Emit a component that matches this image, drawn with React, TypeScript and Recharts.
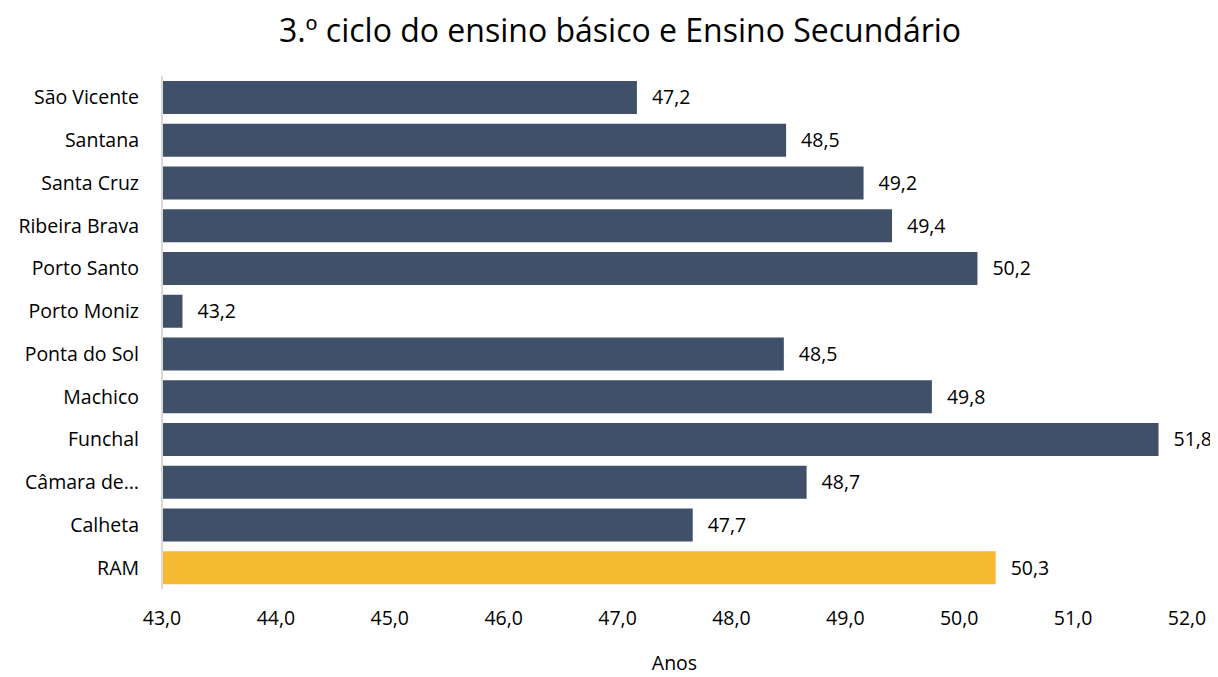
import React from "react";
import { BarChart, Bar, XAxis, YAxis, Cell, LabelList, Label } from "recharts";

const regions = [
  "São Vicente",
  "Santana",
  "Santa Cruz",
  "Ribeira Brava",
  "Porto Santo",
  "Porto Moniz",
  "Ponta do Sol",
  "Machico",
  "Funchal",
  "Câmara de Lobos",
  "Calheta",
  "RAM",
];
// average age (labels show one decimal)
const ages = [47.17, 48.48, 49.16, 49.41, 50.16, 43.18, 48.46, 49.76, 51.75, 48.66, 47.66, 50.32];
const xTicks = [43, 44, 45, 46, 47, 48, 49, 50, 51, 52];

const data = regions.map((name, i) => ({ name, value: ages[i] }));

const FONT = "'Open Sans', Lato, sans-serif";
const comma = (v: unknown) => (Math.round(Number(v) * 10) / 10).toFixed(1).replace(".", ",");
const shortName = (s: string) => (s.length > 13 ? s.slice(0, 9) + "…" : s);

export default function App() {
  return (
    <div style={{ position: "relative", width: 1210, height: 669, fontFamily: FONT }}>
      <div
        style={{
          position: "absolute",
          top: 0,
          left: 0,
          width: 1224,
          textAlign: "center",
          fontSize: 32,
          color: "#000",
        }}
      >
        3.º ciclo do ensino básico e Ensino Secundário
      </div>
      <BarChart
        width={1210}
        height={669}
        data={data}
        layout="vertical"
        margin={{ top: 68, right: 31, bottom: 0, left: 0 }}
      >
        <XAxis
          type="number"
          domain={[43, 52]}
          ticks={xTicks}
          tickFormatter={comma}
          axisLine={false}
          tickLine={false}
          tickSize={0}
          tickMargin={22}
          height={88}
          tick={{ fill: "#000", fontSize: 19.5, fontFamily: FONT }}
          allowDataOverflow
        >
          <Label value="Anos" position="insideBottom" offset={7} fill="#000" fontSize={19.5} fontFamily={FONT} />
        </XAxis>
        <YAxis
          type="category"
          dataKey="name"
          width={154}
          tickSize={0}
          tickMargin={23}
          tickLine={false}
          axisLine={{ stroke: "#d9d9d9", strokeWidth: 2 }}
          tickFormatter={shortName}
          tick={{ fill: "#000", fontSize: 19.5, fontFamily: FONT }}
          interval={0}
        />
        <Bar dataKey="value" barSize={33} isAnimationActive={false}>
          {data.map((d) => (
            <Cell key={d.name} fill={d.name === "RAM" ? "#f6b932" : "#3f5068"} />
          ))}
          <LabelList
            dataKey="value"
            position="right"
            offset={15}
            formatter={comma}
            fill="#000"
            fontSize={19.5}
            fontFamily={FONT}
          />
        </Bar>
      </BarChart>
    </div>
  );
}
